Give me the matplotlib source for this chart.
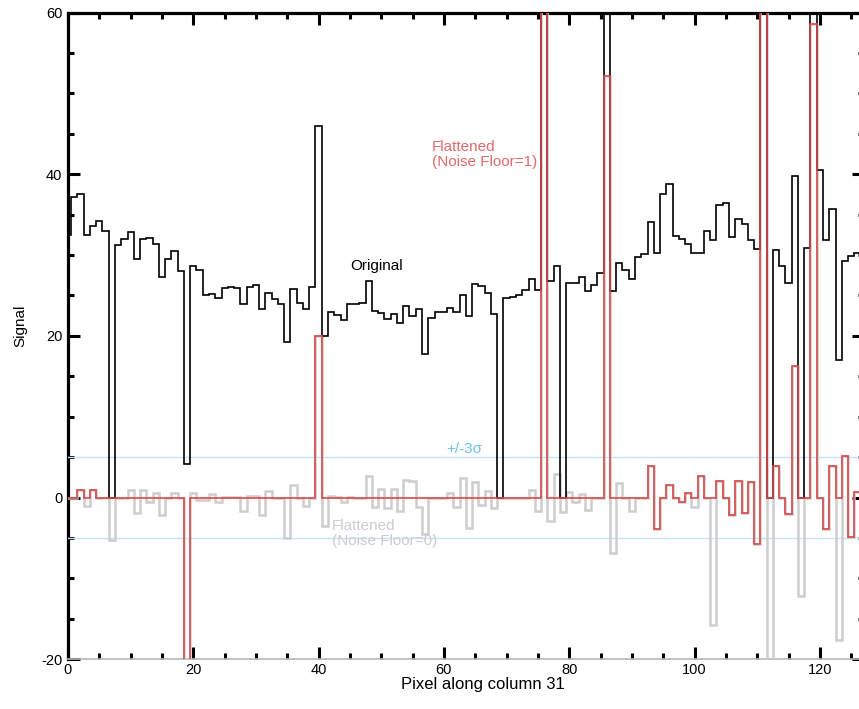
import numpy as np
import matplotlib
matplotlib.use("Agg")
import matplotlib.pyplot as plt
from matplotlib.ticker import MultipleLocator

plt.rcParams['font.family'] = ['Liberation Sans', 'DejaVu Sans']
plt.rcParams['axes.unicode_minus'] = False

# ---- data ----
original = [32.5, 37.2, 37.6, 32.5, 33.6, 34.2, 33.0, 0.0, 31.3, 32.0,
            32.8, 29.5, 32.0, 32.1, 31.4, 27.3, 29.5, 30.5, 28.0, 4.2,
            28.7, 28.2, 25.0, 25.2, 24.7, 25.9, 26.1, 25.9, 23.9, 26.1,
            26.3, 23.3, 25.3, 24.6, 24.0, 19.3, 25.8, 24.1, 23.3, 26.1,
            46.0, 20.0, 23.0, 22.6, 22.0, 23.9, 23.9, 24.1, 26.8, 23.1,
            22.8, 22.1, 22.7, 21.6, 23.7, 22.5, 23.3, 17.7, 22.2, 22.9,
            22.9, 23.5, 22.9, 25.0, 22.5, 26.4, 26.2, 25.3, 22.7, 0.0,
            24.7, 24.8, 25.1, 25.7, 27.0, 25.7, 75.0, 26.8, 28.6, 0.0,
            26.6, 26.5, 27.3, 25.5, 26.3, 27.8, 75.0, 25.6, 29.0, 28.2,
            27.0, 29.8, 30.1, 34.1, 30.2, 37.6, 38.8, 32.4, 32.0, 31.4,
            30.3, 30.3, 33.0, 31.9, 36.2, 36.4, 32.2, 34.5, 33.8, 31.8,
            30.7, 75.0, 0.0, 30.6, 28.6, 26.6, 39.8, 0.0, 30.9, 75.0,
            40.5, 31.9, 35.7, 17.0, 29.3, 29.9, 30.2]

flat_nf1 = [0.0, 0.0, 1.0, 0.0, 0.9, 0.0, 0.0, 0.0, 0.0, 0.0,
            0.0, 0.0, 0.0, 0.0, 0.0, 0.0, 0.0, 0.0, 0.0, -25.0,
            0.0, 0.0, 0.0, 0.0, 0.0, 0.0, 0.0, 0.0, 0.0, 0.0,
            0.0, 0.0, 0.0, 0.0, 0.0, 0.0, 0.0, 0.0, 0.0, 0.0,
            20.0, 0.0, 0.0, 0.0, 0.0, 0.0, 0.0, 0.0, 0.0, 0.0,
            0.0, 0.0, 0.0, 0.0, 0.0, 0.0, 0.0, 0.0, 0.0, 0.0,
            0.0, 0.0, 0.0, 0.0, 0.0, 0.0, 0.0, 0.0, 0.0, 0.0,
            0.0, 0.0, 0.0, 0.0, 0.0, 0.0, 70.0, 0.0, 0.0, 0.0,
            0.0, 0.0, 0.0, 0.0, 0.0, 0.0, 52.2, 0.0, 0.0, 0.0,
            0.0, 0.0, 0.0, 3.9, -3.9, 0.0, 1.5, 0.0, -0.5, 0.55,
            0.0, 2.7, 0.0, 0.0, 2.0, 0.0, -2.2, 2.1, -1.9, 1.9,
            -5.7, 70.0, 0.0, 3.9, 0.0, -2.0, 16.3, 0.0, 0.0, 58.6,
            0.0, -3.9, 3.9, 0.0, 5.2, -4.9, 0.7]

flat_nf0 = [0.0, 0.0, 1.0, -1.1, 0.9, 0.0, 0.0, -5.2, 0.0, 0.0,
            0.9, -1.9, 1.0, -0.6, 0.6, -2.1, 0.0, 0.6, 0.0, -25.0,
            0.6, -0.3, -0.3, 0.4, -0.5, 0.1, 0.1, 0.1, -1.6, 0.2,
            0.2, -2.1, 0.8, 0.0, 0.0, -5.0, 1.6, 0.0, -1.0, 0.0,
            20.0, -3.5, 0.2, 0.1, -0.6, 0.1, -0.1, -0.1, 2.7, -1.2,
            1.1, -1.3, 1.1, -1.7, 2.2, 2.0, -1.2, -4.5, 0.0, 0.0,
            0.0, 0.6, -1.2, 2.4, -3.8, 1.9, -0.9, 0.8, -1.3, 0.0,
            0.0, 0.0, 0.0, 0.0, 0.9, -1.7, 70.0, -2.9, 2.9, -1.8,
            0.7, -0.6, 0.5, -1.5, 0.0, 0.0, 52.2, -6.8, 1.8, 0.0,
            -1.6, 0.0, 0.0, 3.9, -3.9, 0.0, 1.5, 0.0, -0.5, 0.55,
            -1.2, 2.7, 0.0, -15.8, 2.0, 0.0, -2.2, 2.1, -1.9, 1.9,
            -5.7, 70.0, -25.0, 3.9, 0.0, -2.0, 16.3, -12.2, 0.0, 58.6,
            0.0, -3.9, 3.9, -17.6, 5.2, -4.9, 0.7]

sigma_level = 5.0
x_ticks = [0, 20, 40, 60, 80, 100, 120]
y_ticks = [-20, 0, 20, 40, 60]

# ---- figure ----
W, H = 859, 709
fig = plt.figure(figsize=(W / 100, H / 100), dpi=100)
ax = fig.add_axes([68 / W, 1 - 659.3 / H, (863.7 - 68) / W, (659.3 - 12.5) / H])

n = len(original)
edges = np.arange(n + 1) - 0.5

ax.axhline(sigma_level, color='#c4e4f4', lw=1.0, zorder=3)
ax.axhline(-sigma_level, color='#c4e4f4', lw=1.0, zorder=3)

ax.stairs(flat_nf0, edges, baseline=None, color='#cdcdcd', lw=1.8, zorder=4)
ax.stairs(original, edges, baseline=None, color='black', lw=1.2, zorder=5)
ax.stairs(flat_nf1, edges, baseline=None, color='#d9494b', lw=1.2, zorder=6)

ax.set_xlim(0, 127)
ax.set_ylim(-20, 60)
ax.set_xticks(x_ticks)
ax.set_yticks(y_ticks)
ax.xaxis.set_minor_locator(MultipleLocator(5))
ax.yaxis.set_minor_locator(MultipleLocator(5))

ax.tick_params(which='both', direction='in', top=True, right=True,
               width=2.2, color='black', labelsize=10.5)
ax.tick_params(which='major', length=8.6)
ax.tick_params(which='minor', length=4.3)
ax.tick_params(axis='x', pad=3)
ax.tick_params(axis='y', pad=4)

for side in ('left', 'top', 'right'):
    ax.spines[side].set_linewidth(2.3)
    ax.spines[side].set_color('black')
ax.spines['bottom'].set_linewidth(1.2)
ax.spines['bottom'].set_color('#b8b8b8')

ax.set_xlabel('Pixel along column 31', fontsize=12)
ax.xaxis.set_label_coords(0.521, -0.0275)
ax.set_ylabel('Signal', fontsize=11)
ax.yaxis.set_label_coords(-0.0505, 0.515)

ax.text(45.0, 28.7, 'Original', color='black', fontsize=11,
        ha='left', va='center', zorder=7)
ax.text(58.1, 42.4, 'Flattened\n(Noise Floor=1)', color='#e06a6a',
        fontsize=11, ha='left', va='center', linespacing=1.1, zorder=7)
ax.text(60.3, 6.0, '+/-3\u03c3', color='#6cc4ec', fontsize=11,
        ha='left', va='center', zorder=7)
ax.text(42.1, -4.4, 'Flattened\n(Noise Floor=0)', color='#cccccc',
        fontsize=11, ha='left', va='center', linespacing=1.1, zorder=7)

fig.savefig('out.png', dpi=100)
